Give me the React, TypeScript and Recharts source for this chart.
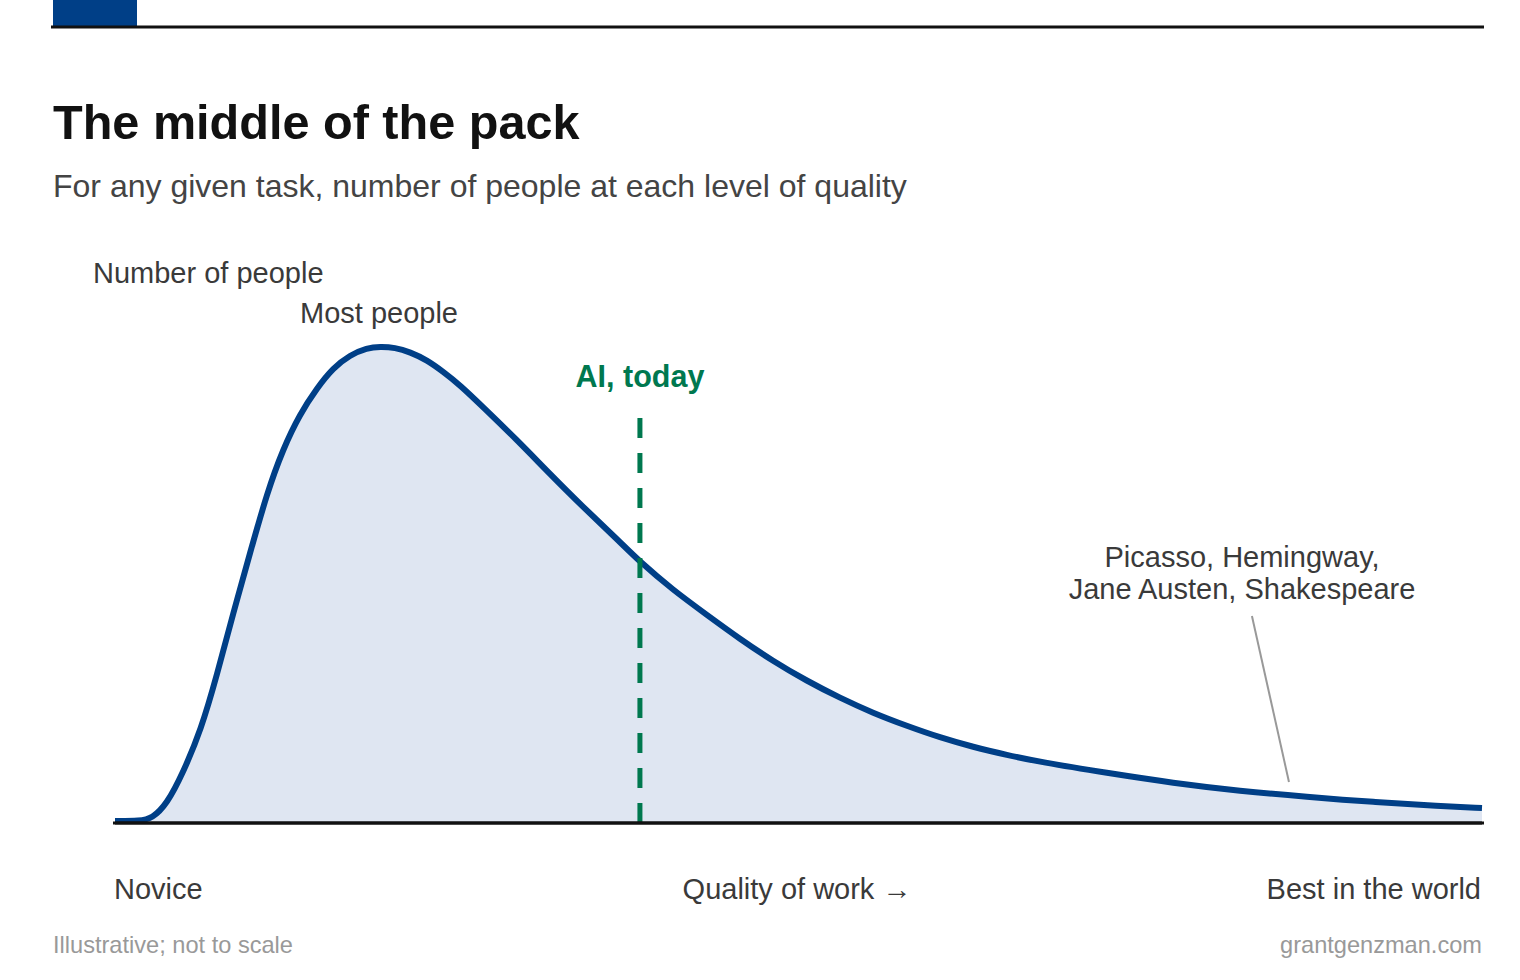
import React from "react";
import { AreaChart, Area, XAxis, YAxis, ReferenceLine } from "recharts";

// Quality of work (0 = novice, 100 = best in the world)
const quality = [
  0, 1.83, 2.71, 3.8, 4.97, 6.29, 7.46, 8.63, 9.88, 11.12, 12.29, 13.53, 14.78, 15.95,
  17.19, 18.43, 19.39, 20.48, 21.58, 22.82, 23.99, 25.24, 26.92, 29.41, 31.82, 34.24,
  36.72, 38.41, 40.82, 43.31, 45.72, 48.13, 50.62, 53.04, 55.45, 57.94, 60.35, 62.77,
  65.25, 67.67, 72.57, 77.4, 82.3, 87.2, 92.03, 96.93, 100,
];
// Number of people (relative)
const people = [
  0.4, 0.4, 0.9, 3.8, 10.0, 18.6, 29.6, 41.8, 54.0, 66.0, 74.8, 81.8, 87.0, 91.0,
  93.6, 95.0, 95.3, 95.1, 94.2, 92.6, 90.3, 87.6, 83.2, 76.6, 69.8, 63.2,
  56.8, 52.2, 46.6, 41.6, 36.8, 32.4, 28.4, 25.0, 22.0, 19.4, 17.1, 15.2,
  13.6, 12.2, 10.0, 8.0, 6.4, 5.2, 4.2, 3.4, 3.0,
];
const aiToday = { quality: 38.4, top: 81 };
const greats = { from: { quality: 83.17, people: 41.4 }, to: { quality: 85.88, people: 8.2 } };

const title = "The middle of the pack";
const subtitle = "For any given task, number of people at each level of quality";
const yLabel = "Number of people";
const peakLabel = "Most people";
const aiLabel = "AI, today";
const greatsLines = ["Picasso, Hemingway,", "Jane Austen, Shakespeare"];
const xLabels = ["Novice", "Quality of work \u2192", "Best in the world"];
const footLeft = "Illustrative; not to scale";
const footRight = "grantgenzman.com";

const data = quality.map((q, i) => ({ q, v: people[i] }));

const FONT = "'Liberation Sans', Arial, Helvetica, sans-serif";
const BLUE = "#003F87";
const FILL = "#DFE6F2";
const GREEN = "#00784F";
const TEXT = "#3a3a3a";

export default function App() {
  return (
    <div style={{ position: "absolute", left: 0, top: 0, width: 1520, height: 980, background: "#fff" }}>
      <AreaChart
        width={1520}
        height={980}
        data={data}
        margin={{ top: 323, right: 38, bottom: 157, left: 115 }}
      >
        <XAxis dataKey="q" type="number" domain={[0, 100]} hide />
        <YAxis type="number" domain={[0, 100]} hide />
        <Area
          type="basis"
          dataKey="v"
          stroke={BLUE}
          strokeWidth={6}
          fill={FILL}
          fillOpacity={1}
          isAnimationActive={false}
          dot={false}
          activeDot={false}
        />
        <ReferenceLine
          segment={[
            { x: aiToday.quality, y: aiToday.top },
            { x: aiToday.quality, y: 0 },
          ]}
          stroke={GREEN}
          strokeWidth={5}
          strokeDasharray="20 15"
        />
        <ReferenceLine
          segment={[
            { x: greats.from.quality, y: greats.from.people },
            { x: greats.to.quality, y: greats.to.people },
          ]}
          stroke="#999"
          strokeWidth={2}
        />
        <ReferenceLine y={0} stroke="#111" strokeWidth={3} />
      </AreaChart>
      <svg
        width={1520}
        height={980}
        style={{ position: "absolute", left: 0, top: 0, pointerEvents: "none" }}
        fontFamily={FONT}
      >
        <rect x={53} y={0} width={84} height={26} fill={BLUE} />
        <line x1={51} x2={1484} y1={27} y2={27} stroke="#111" strokeWidth={3} />
        <line x1={113} x2={1484} y1={823} y2={823} stroke="#111" strokeWidth={3} />
        <text x={53} y={139} fontSize={48.6} fontWeight="bold" fill="#111">{title}</text>
        <text x={53} y={197} fontSize={32} fill="#444">{subtitle}</text>
        <text x={93} y={283} fontSize={29} fill={TEXT}>{yLabel}</text>
        <text x={379} y={323} fontSize={29} fill={TEXT} textAnchor="middle">{peakLabel}</text>
        <text x={640} y={387} fontSize={30.5} fontWeight="bold" fill={GREEN} textAnchor="middle">{aiLabel}</text>
        <text x={1242} y={567} fontSize={29} fill={TEXT} textAnchor="middle">{greatsLines[0]}</text>
        <text x={1242} y={599} fontSize={29} fill={TEXT} textAnchor="middle">{greatsLines[1]}</text>
        <text x={114} y={899} fontSize={29} fill={TEXT}>{xLabels[0]}</text>
        <text x={797} y={899} fontSize={29} fill={TEXT} textAnchor="middle">{xLabels[1]}</text>
        <text x={1481} y={899} fontSize={29} fill={TEXT} textAnchor="end">{xLabels[2]}</text>
        <text x={53} y={953} fontSize={23.6} fill="#999">{footLeft}</text>
        <text x={1482} y={953} fontSize={23.6} fill="#999" textAnchor="end">{footRight}</text>
      </svg>
    </div>
  );
}
